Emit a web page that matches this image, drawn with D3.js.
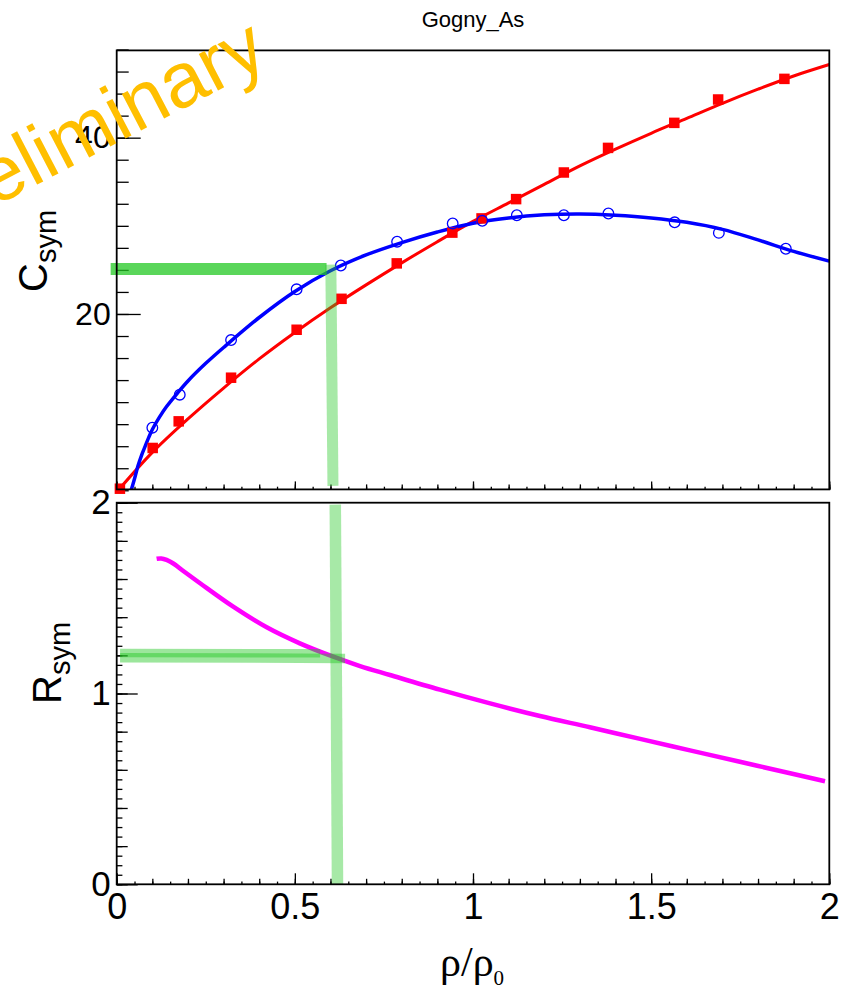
<!DOCTYPE html>
<html>
<head>
<meta charset="utf-8">
<script src="https://cdn.jsdelivr.net/npm/d3@7"></script>
<style>
  html, body { margin: 0; padding: 0; background: #fff; }
  svg { display: block; }
  text { font-family: "Liberation Sans", Arial, Helvetica, sans-serif; }
  text.serif { font-family: "Liberation Serif", "Times New Roman", "DejaVu Serif", serif; }
</style>
</head>
<body>
<svg id="chart" width="850" height="993"></svg>
<script>
// ---- data -------------------------------------------------------------
// C_sym points (filled red squares) and their fit curve
const redX   = [0.009, 0.101, 0.174, 0.321, 0.505, 0.631, 0.786, 0.942, 1.024, 1.121, 1.255, 1.379, 1.565, 1.688, 1.874];
const redY   = [0.18, 4.80, 7.82, 12.77, 18.21, 21.72, 25.74, 29.23, 30.84, 33.03, 36.05, 38.84, 41.68, 44.33, 46.67];
const redFitX = [0.0, 0.1, 0.2, 0.3, 0.4, 0.5, 0.6, 0.7, 0.8, 0.9, 1.0, 1.1, 1.2, 1.3, 1.4, 1.5, 1.6, 1.7, 1.8, 1.9, 2.0];
const redFitY = [-0.2, 4.3, 8.1, 11.6, 14.9, 17.9, 20.7, 23.3, 25.8, 28.2, 30.5, 32.6, 34.7, 36.8, 38.7, 40.5, 42.2, 43.9, 45.5, 47.0, 48.3];

// C_sym points (open blue circles) and their fit curve
const blueX  = [0.100, 0.177, 0.321, 0.505, 0.629, 0.787, 0.943, 1.026, 1.123, 1.255, 1.380, 1.566, 1.690, 1.878];
const blueY  = [7.1, 10.84, 17.04, 22.8, 25.5, 28.2, 30.27, 30.57, 31.2, 31.2, 31.4, 30.4, 29.2, 27.4];
const blueFitX = [0.038, 0.045, 0.05, 0.06, 0.07, 0.08, 0.09, 0.10, 0.12, 0.14, 0.17, 0.20, 0.25, 0.30, 0.40, 0.50, 0.60, 0.70, 0.80, 0.90, 1.00, 1.10, 1.20, 1.30, 1.40, 1.50, 1.60, 1.70, 1.80, 1.90, 2.00];
const blueFitY = [-0.3, 0.6, 1.3, 2.8, 4.0, 5.0, 6.0, 6.9, 8.3, 9.5, 11.0, 12.4, 14.4, 16.2, 19.6, 22.55, 24.9, 26.7, 28.1, 29.3, 30.3, 30.9, 31.25, 31.35, 31.2, 30.9, 30.4, 29.6, 28.4, 27.1, 26.0];

// R_sym curve
const rsymX = [0.112, 0.125, 0.14, 0.16, 0.187, 0.234, 0.327, 0.421, 0.514, 0.608, 0.683, 0.767, 0.907, 1.048, 1.188, 1.328, 1.469, 1.609, 1.749, 1.890, 1.988];
const rsymY = [1.706, 1.708, 1.700, 1.680, 1.642, 1.578, 1.455, 1.347, 1.263, 1.193, 1.144, 1.097, 1.020, 0.948, 0.882, 0.823, 0.762, 0.702, 0.642, 0.582, 0.540];

// green guide lines: [x1, y1, x2, y2]
const guideTopH  = [-0.017, 25.1, 0.589, 25.1];
const guideTopV  = [0.601, 25.6, 0.607, 0.5];
const guideBotV  = [0.6135, 1.99, 0.6197, 0.0];
const guideBotH1 = [0.0095, 1.212, 0.571, 1.211];
const guideBotH2 = [0.0095, 1.188, 0.641, 1.184];

// axis tick labels
const xTickLabels    = [0, 0.5, 1, 1.5, 2];
const yTopTickLabels = [20, 40];
const yBotTickLabels = [0, 1, 2];

// ---- layout -----------------------------------------------------------
const svg = d3.select("#chart");
const X0 = 116.7, X1 = 829.3;
const padTop = { y0: 50.4, y1: 489.4 };
const padBot = { y0: 502.7, y1: 884.3 };

const x    = d3.scaleLinear().domain([0, 2]).range([X0, X1]);
const yTop = d3.scaleLinear().domain([0.1, 49.9]).range([padTop.y1, padTop.y0]);
const yBot = d3.scaleLinear().domain([0, 2]).range([padBot.y1, padBot.y0]);

const defs = svg.append("defs");
defs.append("clipPath").attr("id", "clipTop").append("rect")
  .attr("x", X0).attr("y", padTop.y0).attr("width", X1 - X0).attr("height", padTop.y1 - padTop.y0);
defs.append("clipPath").attr("id", "clipBot").append("rect")
  .attr("x", X0).attr("y", padBot.y0).attr("width", X1 - X0).attr("height", padBot.y1 - padBot.y0);

// ---- ticks ------------------------------------------------------------
function ticksX(g, y0, sizes, labels) {
  const lvl = [
    { vals: d3.range(0, 2.0001, 0.05), len: sizes[2] },
    { vals: d3.range(0, 2.0001, 0.1),  len: sizes[1] },
    { vals: d3.range(0, 2.0001, 0.5),  len: sizes[0] }
  ];
  lvl.forEach(l => {
    const ax = d3.axisBottom(x).tickValues(l.vals).tickSize(-l.len).tickFormat("");
    const gg = g.append("g").attr("transform", `translate(0,${y0})`).call(ax);
    gg.select(".domain").remove();
    gg.selectAll(".tick line").attr("stroke", "#000").attr("stroke-width", 1.3);
  });
  if (labels) {
    const axl = d3.axisBottom(x).tickValues(labels).tickSize(0).tickPadding(9).tickFormat(d3.format(""));
    const gl = g.append("g").attr("transform", `translate(0,${y0})`).call(axl);
    gl.select(".domain").remove();
    gl.selectAll(".tick text").attr("font-size", 36).attr("fill", "#000");
  }
}

function ticksY(g, scale, levels, labels, padding, fontSize) {
  levels.forEach(l => {
    const ax = d3.axisLeft(scale).tickValues(l.vals).tickSize(-l.len).tickFormat("");
    const gg = g.append("g").attr("transform", `translate(${X0},0)`).call(ax);
    gg.select(".domain").remove();
    gg.selectAll(".tick line").attr("stroke", "#000").attr("stroke-width", 1.3);
  });
  const axl = d3.axisLeft(scale).tickValues(labels).tickSize(0).tickPadding(padding).tickFormat(d3.format(""));
  const gl = g.append("g").attr("transform", `translate(${X0},0)`).call(axl);
  gl.select(".domain").remove();
  gl.selectAll(".tick text").attr("font-size", fontSize).attr("fill", "#000");
}

function guide(g, sy, seg, color, width) {
  g.append("line")
    .attr("x1", x(seg[0])).attr("y1", sy(seg[1]))
    .attr("x2", x(seg[2])).attr("y2", sy(seg[3]))
    .attr("stroke", color).attr("stroke-width", width);
}

// ---- top panel --------------------------------------------------------
const gTop = svg.append("g");
ticksY(gTop, yTop, [
  { vals: d3.range(0, 50.01, 2.5), len: 12 },
  { vals: [20, 40], len: 24 }
], yTopTickLabels, 6, 32);
ticksX(gTop, padTop.y1, [8, 5, 2.7], null);

const smooth = d3.curveCatmullRom.alpha(0.5);
const lineTop = d3.line().x(d => x(d[0])).y(d => yTop(d[1])).curve(smooth);
const gTopPlot = gTop.append("g").attr("clip-path", "url(#clipTop)");
gTopPlot.append("path").datum(d3.zip(redFitX, redFitY))
  .attr("d", lineTop).attr("fill", "none").attr("stroke", "#ff0000").attr("stroke-width", 3);
gTopPlot.append("path").datum(d3.zip(blueFitX, blueFitY))
  .attr("d", lineTop).attr("fill", "none").attr("stroke", "#0000ff").attr("stroke-width", 3.5);

// markers
const sq = 10.5;
gTop.selectAll("rect.red").data(d3.zip(redX, redY)).join("rect")
  .attr("class", "red")
  .attr("x", d => x(d[0]) - sq / 2).attr("y", d => yTop(d[1]) - sq / 2)
  .attr("width", sq).attr("height", sq).attr("fill", "#ff0000");
gTop.selectAll("circle.blue").data(d3.zip(blueX, blueY)).join("circle")
  .attr("class", "blue")
  .attr("cx", d => x(d[0])).attr("cy", d => yTop(d[1])).attr("r", 5.3)
  .attr("fill", "none").attr("stroke", "#0000ff").attr("stroke-width", 1.3);

guide(gTop, yTop, guideTopH, "rgba(35,200,35,0.75)", 12);
guide(gTop, yTop, guideTopV, "rgba(35,200,35,0.4)", 11);

gTop.append("rect").attr("x", X0).attr("y", padTop.y0).attr("width", X1 - X0).attr("height", padTop.y1 - padTop.y0)
  .attr("fill", "none").attr("stroke", "#000").attr("stroke-width", 1.8);

// ---- bottom panel -----------------------------------------------------
const gBot = svg.append("g");
ticksY(gBot, yBot, [
  { vals: d3.range(0, 2.0001, 0.05), len: 5.7 },
  { vals: d3.range(0, 2.0001, 0.2), len: 11 },
  { vals: [0, 1, 2], len: 21 }
], yBotTickLabels, 6, 35);
ticksX(gBot, padBot.y1, [11, 5.5, 2.7], xTickLabels);

const lineBot = d3.line().x(d => x(d[0])).y(d => yBot(d[1])).curve(smooth);
gBot.append("g").attr("clip-path", "url(#clipBot)")
  .append("path").datum(d3.zip(rsymX, rsymY))
  .attr("d", lineBot).attr("fill", "none").attr("stroke", "#ff00ff").attr("stroke-width", 4.5);

guide(gBot, yBot, guideBotV, "rgba(35,200,35,0.4)", 11.5);
guide(gBot, yBot, guideBotH1, "rgba(35,200,35,0.45)", 8.5);
guide(gBot, yBot, guideBotH2, "rgba(35,200,35,0.45)", 9.5);

gBot.append("rect").attr("x", X0).attr("y", padBot.y0).attr("width", X1 - X0).attr("height", padBot.y1 - padBot.y0)
  .attr("fill", "none").attr("stroke", "#000").attr("stroke-width", 1.8);

// ---- titles -----------------------------------------------------------
svg.append("text").attr("x", 473).attr("y", 27).attr("text-anchor", "middle")
  .attr("font-size", 22).attr("fill", "#000").text("Gogny_As");

function yTitle(main, sub, bx, by, fMain, fSub) {
  const t = svg.append("text").attr("transform", `translate(${bx},${by}) rotate(-90)`)
    .attr("fill", "#000");
  t.append("tspan").attr("font-size", fMain).text(main);
  t.append("tspan").attr("font-size", fSub).attr("dy", 9).text(sub);
}
yTitle("C", "sym", 47, 292, 40, 29);
yTitle("R", "sym", 61, 704, 40, 29);

const xt = svg.append("text").attr("class", "serif").attr("x", 440).attr("y", 976).attr("fill", "#000");
xt.append("tspan").attr("font-size", 42).text("ρ/ρ");
xt.append("tspan").attr("font-size", 21).attr("dy", 9).text("0");

// ---- watermark --------------------------------------------------------
const wm = svg.append("text").attr("transform", "translate(-6,207) rotate(-27.5)")
  .attr("font-size", 78).attr("fill", "#ffbf00").text("Preliminary");
const pr = svg.append("text").attr("font-size", 78).attr("opacity", 0).text("Pr");
const prW = pr.node().getComputedTextLength();
pr.remove();
wm.attr("x", -prW);
</script>
</body>
</html>
